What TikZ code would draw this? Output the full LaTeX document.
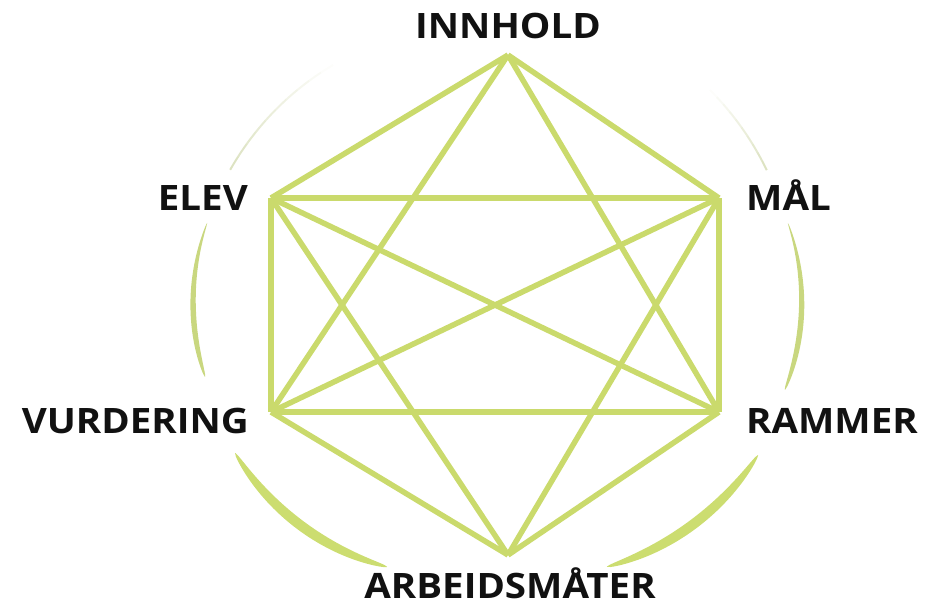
\documentclass[tikz,border=0pt]{standalone}
\usepackage{fontspec}
\setmainfont{Open Sans}
\newfontfamily\lblfont{Open Sans}[FakeStretch=1.1]
\definecolor{lineg}{RGB}{202,218,108}
\definecolor{arcg}{RGB}{204,221,112}
\definecolor{faintg}{RGB}{196,206,150}
\definecolor{txt}{RGB}{17,17,17}
% band along an arc around (497,292): #1 a0, #2 a1, #3 r0, #4 rm, #5 r1, #6 w0, #7 w1, #8 options
\newcommand{\arcband}[8]{%
  \begin{scope}[declare function={
      aa(\x)=(#1)+((#2)-(#1))*\x;
      rr(\x)=(#3)*(2*\x-1)*(\x-1)+(#4)*4*\x*(1-\x)+(#5)*\x*(2*\x-1);
      hh(\x)=0.5*((#6)*(1-\x)+(#7)*\x)*sqrt(abs(sin(180*\x)));}]
    \fill[#8] plot[domain=0:1,samples=60,variable=\t]
      ({497+(rr(\t)+hh(\t))*cos(aa(\t))},{292+(rr(\t)+hh(\t))*sin(aa(\t))})
      -- plot[domain=1:0,samples=60,variable=\t]
      ({497+(rr(\t)-hh(\t))*cos(aa(\t))},{292+(rr(\t)-hh(\t))*sin(aa(\t))})
      -- cycle;
  \end{scope}}
% faint thin arc drawn in pieces of rising opacity: #1 a0, #2 a1, #3 r0, #4 r1
\newcommand{\faintarc}[4]{%
  \foreach \k in {0,...,9}{%
    \pgfmathsetmacro{\sa}{\k/10}%
    \pgfmathsetmacro{\sb}{(\k+1)/10}%
    \pgfmathsetmacro{\op}{0.04+0.06*\k}%
    \draw[faintg, line width=2pt, opacity=\op]
      plot[domain=\sa:\sb,samples=6,variable=\t]
      ({497+((#3)+((#4)-(#3))*\t)*cos((#1)+((#2)-(#1))*\t)},
       {292+((#3)+((#4)-(#3))*\t)*sin((#1)+((#2)-(#1))*\t)});
  }}
\begin{document}
\begin{tikzpicture}[x=1pt,y=-1pt,
  edge/.style={draw=lineg, line width=5.5pt},
  lbl/.style={font=\lblfont\fontsize{35}{38}\selectfont\bfseries, text=txt, inner sep=0pt, text depth=0pt}]
\useasboundingbox (0,0) rectangle (933,607);
% surrounding arcs
\faintarc{234.2}{204.6}{280}{293.5}
\faintarc{316.5}{335.7}{293.5}{296}
\arcband{193.4}{163.8}{298}{304}{304}{3.5}{7}{faintg!40!arcg}
\arcband{346.7}{378.8}{299}{305}{304}{3.5}{7}{faintg!40!arcg}
\arcband{148.4}{111.8}{307.5}{305}{296}{10}{10}{arcg}
\arcband{68.2}{32}{296}{304}{307.7}{10}{10}{arcg}
% vertices
\coordinate (I) at (508,55);
\coordinate (M) at (719,198);
\coordinate (R) at (719,412);
\coordinate (A) at (508,555);
\coordinate (V) at (271,412);
\coordinate (E) at (271,198);
% connectors
\draw[edge] (I) -- (E);
\draw[edge] (I) -- (M);
\draw[edge] (I) -- (V);
\draw[edge] (I) -- (R);
\draw[edge] (E) -- (M);
\draw[edge] (E) -- (V);
\draw[edge] (E) -- (R);
\draw[edge] (E) -- (A);
\draw[edge] (M) -- (R);
\draw[edge] (M) -- (V);
\draw[edge] (M) -- (A);
\draw[edge] (V) -- (R);
\draw[edge] (V) -- (A);
\draw[edge] (R) -- (A);
% labels
\node[lbl, anchor=base] (tI) at (508,39) {INNHOLD};
\node[lbl, anchor=base east] (tE) at (248,210) {ELEV};
\node[lbl, anchor=base west] (tM) at (746,210) {MÅL};
\node[lbl, anchor=base east] (tV) at (249,433) {VURDERING};
\node[lbl, anchor=base west] (tR) at (746,433) {RAMMER};
\node[lbl, anchor=base] (tA) at (510,598) {ARBEIDSMÅTER};
\end{tikzpicture}
\end{document}
